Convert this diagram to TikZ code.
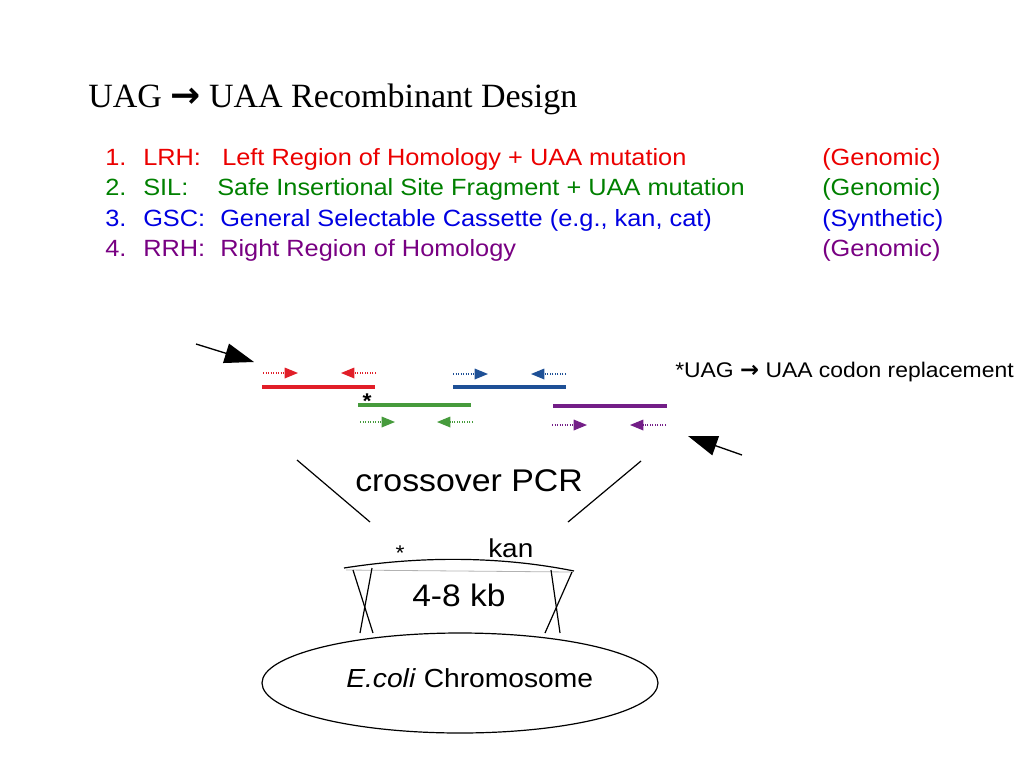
\documentclass[tikz,border=0pt]{standalone}
\usepackage{fontspec}
\setmainfont{Liberation Sans}[FakeStretch=1.08]
\newfontfamily\titlefont{Liberation Serif}
\newfontfamily\symfont{DejaVu Sans}
\usetikzlibrary{arrows.meta}
\definecolor{lred}{RGB}{235,0,0}
\definecolor{lgreen}{RGB}{0,128,0}
\definecolor{lblue}{RGB}{0,0,225}
\definecolor{lpurple}{RGB}{120,0,130}
\definecolor{dred}{RGB}{225,30,40}
\definecolor{dblue}{RGB}{30,80,150}
\definecolor{dgreen}{RGB}{70,155,60}
\definecolor{dpurple}{RGB}{115,30,135}
\begin{document}
\begin{tikzpicture}[x=0.75pt,y=-0.75pt,
  txt/.style={inner sep=0pt,anchor=base west},
  listtxt/.style={txt,font=\fontsize{17.6pt}{20pt}\selectfont},
  frag/.style={line width=2.3pt},
  primer/.style={densely dotted,line width=0.9pt,-{Triangle[length=10pt,width=8pt]}},
  pointer/.style={line width=1pt,-{Triangle[length=22pt,width=15pt]}},
  thinline/.style={line width=0.9pt,black}]
\useasboundingbox (0,0) rectangle (1024,768);

% title
\node[txt,font=\titlefont\fontsize{25.5pt}{30pt}\selectfont] (title) at (88,107)
  {UAG {\symfont\bfseries\fontsize{27pt}{27pt}\selectfont →} UAA Recombinant Design};

% list
\node[listtxt,lred] (n1) at (105,165) {1.};
\node[listtxt,lred] (a1) at (143,165) {LRH:};
\node[listtxt,lred] (d1) at (222,165) {Left Region of Homology + UAA mutation};
\node[listtxt,lred] (g1) at (822,165) {(Genomic)};
\node[listtxt,lgreen] (n2) at (105,195.5) {2.};
\node[listtxt,lgreen] (a2) at (143,195.5) {SIL:};
\node[listtxt,lgreen] (d2) at (217,195.5) {Safe Insertional Site Fragment + UAA mutation};
\node[listtxt,lgreen] (g2) at (822,195.5) {(Genomic)};
\node[listtxt,lblue] (n3) at (105,226) {3.};
\node[listtxt,lblue] (a3) at (143,226) {GSC:};
\node[listtxt,lblue] (d3) at (220,226) {General Selectable Cassette (e.g., kan, cat)};
\node[listtxt,lblue] (g3) at (822,226) {(Synthetic)};
\node[listtxt,lpurple] (n4) at (105,256.5) {4.};
\node[listtxt,lpurple] (a4) at (143,256.5) {RRH:};
\node[listtxt,lpurple] (d4) at (220,256.5) {Right Region of Homology};
\node[listtxt,lpurple] (g4) at (822,256.5) {(Genomic)};

% note
\node[txt,font=\fontsize{15.9pt}{18pt}\selectfont] (note) at (675,377)
  {*UAG {\symfont\bfseries\fontsize{17pt}{17pt}\selectfont →} UAA codon replacement};

% fragments
\draw[frag,dred] (262,387) -- (375,387);
\draw[frag,dblue] (453,387) -- (566,387);
\draw[frag,dgreen] (358,405) -- (471,405);
\draw[frag,dpurple] (553,406) -- (667,406);

% primers
\draw[primer,dred] (263,373) -- (298,373);
\draw[primer,dred] (376,373) -- (341,373);
\draw[primer,dblue] (453,374) -- (488,374);
\draw[primer,dblue] (566,374) -- (531,374);
\draw[primer,dgreen] (360,422) -- (395,422);
\draw[primer,dgreen] (473,422) -- (437,422);
\draw[primer,dpurple] (552,425) -- (587,425);
\draw[primer,dpurple] (666,425) -- (630,425);

\node[font=\bfseries\fontsize{16pt}{16pt}\selectfont,inner sep=0pt] (star1) at (367,401) {*};

% pointers
\coordinate (p1s) at (196,344); \coordinate (p1e) at (254,362);
\coordinate (p2s) at (742,455); \coordinate (p2e) at (688,436);
\draw[pointer] (p1s) -- (p1e);
\draw[pointer] (p2s) -- (p2e);

% crossover PCR
\node[txt,font=\fontsize{23.5pt}{26pt}\selectfont] (pcr) at (355,491) {crossover PCR};
\draw[thinline] (297,460) -- (370,522);
\draw[thinline] (641,461) -- (568,522);

% insert
\draw[line width=0.6pt,gray!60] (346,570) -- (571,572);
\draw[thinline] (344,568) .. controls (420,556) and (500,556) .. (574,571);
\node[font=\fontsize{16pt}{16pt}\selectfont,inner sep=0pt] (star2) at (400,553) {*};
\node[txt,font=\fontsize{19.4pt}{22pt}\selectfont] (kan) at (488,557) {kan};
\node[txt,font=\fontsize{23.3pt}{26pt}\selectfont] (kb) at (412,606) {4-8 kb};
\draw[thinline] (353,570) -- (373,633);
\draw[thinline] (372,568) -- (360,633);
\draw[thinline] (551,570) -- (560,633);
\draw[thinline] (572,572) -- (545,633);

% chromosome
\draw[thinline] (460,683) ellipse [x radius=198,y radius=50];
\node[txt,font=\fontsize{19.6pt}{22pt}\selectfont] (chr) at (346,687) {\textit{E.coli} Chromosome};
\end{tikzpicture}
\end{document}
